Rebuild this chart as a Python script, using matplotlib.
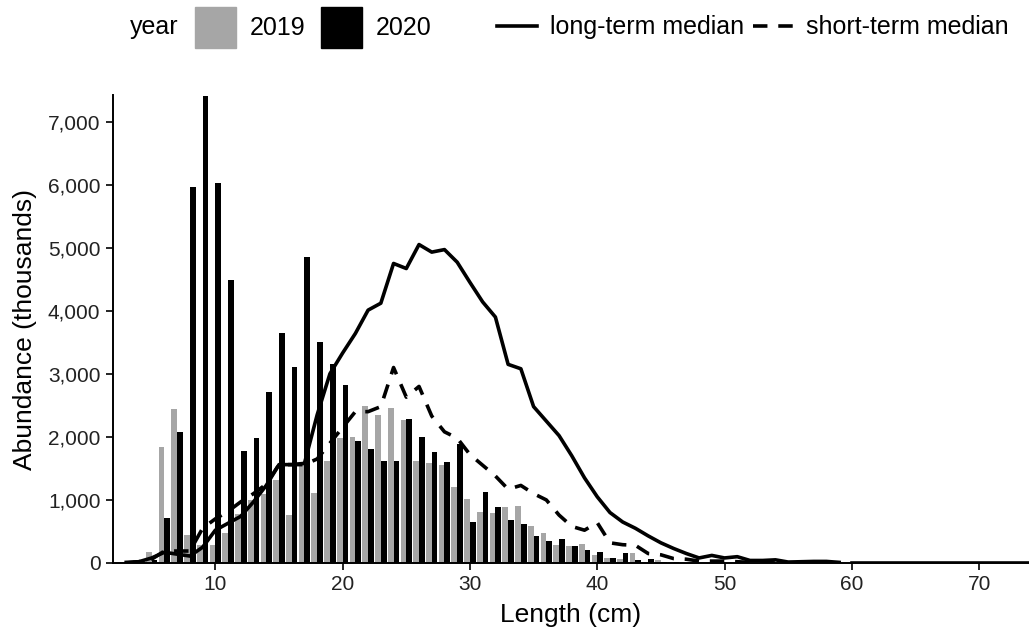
import numpy as np
import matplotlib
matplotlib.use('Agg')
import matplotlib.pyplot as plt
from matplotlib.patches import Patch
from matplotlib.lines import Line2D

plt.rcParams['font.family'] = ['Liberation Sans', 'DejaVu Sans']

# length bins (cm)
length = list(range(3, 60))

# abundance (thousands) per length bin
abund_2019 = [15, 40, 170, 1840, 2440, 440, 290, 280, 470, 770,
              1000, 1100, 1310, 760, 1580, 1110, 1620, 1980, 2000, 2490,
              2350, 2460, 2270, 1620, 1590, 1550, 1200, 1010, 810, 790,
              890, 900, 590, 470, 290, 270, 300, 130, 80, 60,
              160, 20, 40, 10, 5, 0, 0, 0, 0, 0,
              0, 0, 0, 0, 0, 0, 0]
abund_2020 = [5, 10, 50, 720, 2080, 5960, 7400, 6020, 4480, 1770,
              1980, 2710, 3640, 3110, 4850, 3500, 3150, 2820, 1930, 1800,
              1620, 1620, 2280, 2000, 1760, 1600, 1880, 650, 1120, 890,
              680, 620, 430, 350, 380, 270, 210, 170, 80, 160,
              50, 60, 10, 20, 5, 0, 0, 0, 0, 0,
              0, 0, 0, 0, 0, 0, 0]
long_median = [10, 20, 80, 170, 140, 110, 250, 520, 630, 740,
               970, 1230, 1560, 1560, 1580, 2350, 3000, 3330, 3640, 4010,
               4120, 4750, 4670, 5050, 4930, 4970, 4770, 4450, 4140, 3900,
               3150, 3080, 2480, 2250, 2020, 1700, 1350, 1050, 800, 650,
               550, 430, 320, 230, 150, 80, 120, 80, 100, 40,
               40, 50, 15, 20, 25, 25, 10]
short_median = [0, 20, 60, 190, 190, 190, 550, 700, 820, 970,
                1100, 1250, 1560, 1560, 1560, 1650, 1900, 2150, 2400, 2400,
                2480, 3100, 2630, 2800, 2330, 2080, 1980, 1720, 1550, 1380,
                1170, 1230, 1100, 1000, 760, 580, 520, 640, 320, 290,
                280, 150, 130, 70, 60, 30, 30, 30, 20, 10,
                10, 0, 0, 0, 0, 0, 0]

x = np.array(length)
w = 0.45
lw = 2.6
dash = (0, (4, 3))

fig = plt.figure(figsize=(10.29, 6.34), dpi=100)
ax = fig.add_axes([0.1098, 0.112, 0.890, 0.738])

ax.bar(x - w / 2, abund_2019, width=w, color='#a6a6a6', linewidth=0)
ax.bar(x + w / 2, abund_2020, width=w, color='black', linewidth=0)
ax.plot(x, long_median, color='black', lw=lw, solid_joinstyle='round')
ax.plot(x, short_median, color='black', lw=lw, ls=dash)
ax.plot([60, 74], [0, 0], color='black', lw=lw)

ax.set_xlim(1.96, 73.9)
ax.set_ylim(0, 7420)
ax.set_xticks([10, 20, 30, 40, 50, 60, 70])
ax.set_yticks(range(0, 8000, 1000))
ax.set_yticklabels([f'{v:,}' for v in range(0, 8000, 1000)])
ax.tick_params(labelsize=15, colors='black', length=5, width=1.2, labelcolor='#222222', pad=4)
for s in ['top', 'right']:
    ax.spines[s].set_visible(False)
for s in ['left', 'bottom']:
    ax.spines[s].set_linewidth(1.4)
ax.set_xlabel('Length (cm)', fontsize=19, labelpad=6)
ax.set_ylabel('Abundance (thousands)', fontsize=19, labelpad=8)

fig.text(0.1263, 0.957, 'year', fontsize=18, va='center')
leg1 = fig.legend(handles=[Patch(color='#a6a6a6', label='2019'), Patch(color='black', label='2020')],
                  ncol=2, frameon=False, fontsize=18, loc='center left',
                  bbox_to_anchor=(0.1798, 0.957), handlelength=1.64, handleheight=2.15,
                  columnspacing=0.6, handletextpad=0.56, borderaxespad=0)
leg2 = fig.legend(handles=[Line2D([], [], color='black', lw=lw, label='long-term median'),
                           Line2D([], [], color='black', lw=lw, ls=dash, label='short-term median')],
                  ncol=2, frameon=False, fontsize=18, loc='center left',
                  bbox_to_anchor=(0.4733, 0.957), handlelength=1.6,
                  columnspacing=0.36, handletextpad=0.52, borderaxespad=0)

fig.savefig('out.png', dpi=100)
